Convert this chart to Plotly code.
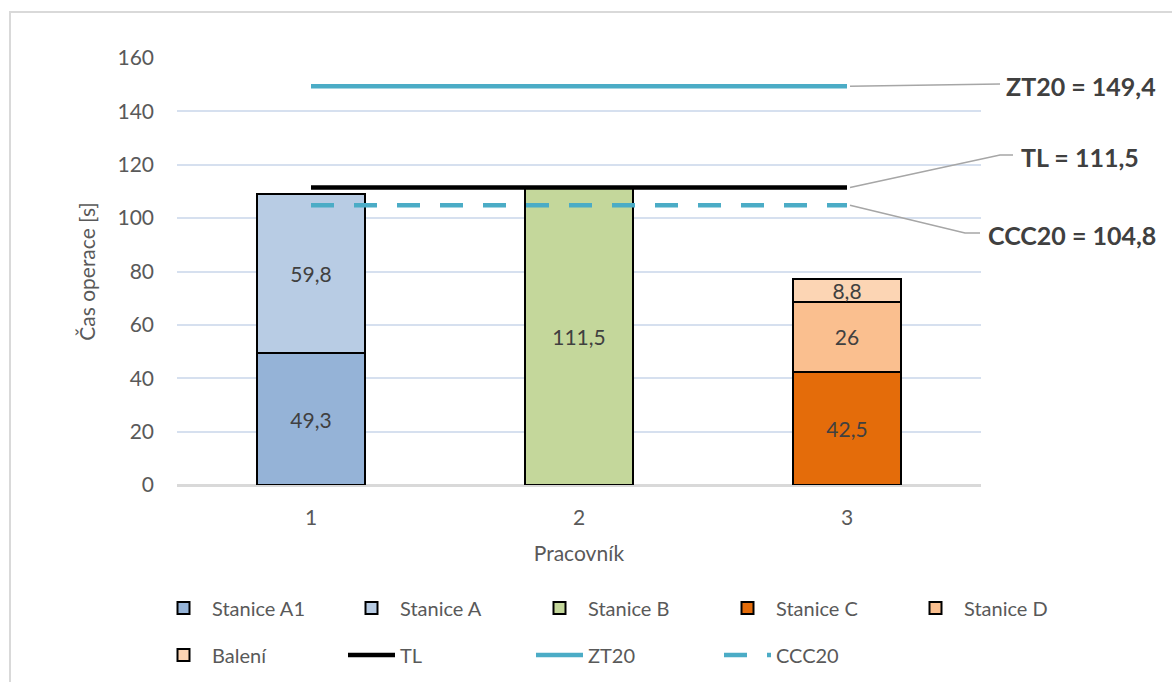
import plotly.graph_objects as go

# Operation times per worker
workers = [1, 2, 3]
stanice_a1 = [49.3, None, None]
stanice_a = [59.8, None, None]
stanice_b = [None, 111.5, None]
stanice_c = [None, None, 42.5]
stanice_d = [None, None, 26]
baleni = [None, None, 8.8]

# Reference levels
tl_value = 111.5
zt20_value = 149.4
ccc20_value = 104.8

W, H = 1172, 682
ML, MR, MT, MB = 177, 191, 58, 197
PW, PH = W - ML - MR, H - MT - MB
Y_MAX = 160
X_MIN, X_MAX = 0.5, 3.5


def px(x):
    return (x - ML) / PW


def py(y):
    return (H - MB - y) / PH


def dx(v):
    return (v - X_MIN) / (X_MAX - X_MIN)


def dy(v):
    return v / Y_MAX


def fmt(vals):
    return [("" if v is None else f"{v:g}".replace(".", ",")) for v in vals]


FONT = "Lato"
TEXT = "#595959"
DARK = "#404040"

fig = go.Figure()

bar_series = [
    ("Stanice A1", stanice_a1, "#95B3D7", "legend"),
    ("Stanice A", stanice_a, "#B8CCE4", "legend"),
    ("Stanice B", stanice_b, "#C4D79B", "legend"),
    ("Stanice C", stanice_c, "#E46C0A", "legend"),
    ("Stanice D", stanice_d, "#FABF8F", "legend"),
    ("Balení", baleni, "#FCD5B4", "legend2"),
]
for name, vals, color, leg in bar_series:
    fig.add_trace(go.Bar(
        name=name, x=workers, y=vals, width=0.4,
        marker=dict(color=color, line=dict(color="black", width=2)),
        text=fmt(vals), textposition="inside", insidetextanchor="middle",
        textangle=0, constraintext="none",
        textfont=dict(family=FONT, size=21, color=DARK),
        legend=leg, hoverinfo="skip",
    ))

line_series = [
    ("TL", tl_value, "black", "solid"),
    ("ZT20", zt20_value, "#4BACC6", "solid"),
    ("CCC20", ccc20_value, "#4BACC6", "23px,20px"),
]
for name, val, color, dash in line_series:
    fig.add_trace(go.Scatter(
        name=name, x=workers, y=[val] * len(workers), mode="lines",
        line=dict(color=color, width=4.5, dash=dash),
        legend="legend2", hoverinfo="skip",
    ))

# Value labels with leader lines
labels = [
    (f"ZT20 = {zt20_value:g}".replace(".", ","), zt20_value, (1004, 86), [(1000, 84)]),
    (f"TL = {tl_value:g}".replace(".", ","), tl_value, (1019, 157), [(1000, 155), (1013, 155)]),
    (f"CCC20 = {ccc20_value:g}".replace(".", ","), ccc20_value, (986, 235), [(965, 233), (980, 233)]),
]
shapes = []
annotations = []
for text, val, (tx, ty), pts in labels:
    x0 = dx(workers[-1]) + 3 / PW
    path = f"M {x0},{dy(val)}"
    for (x, y) in pts:
        path += f" L {px(x)},{py(y)}"
    shapes.append(dict(type="path", xref="paper", yref="paper", path=path,
                       line=dict(color="#A6A6A6", width=1.5)))
    annotations.append(dict(text=f"<b>{text}</b>", xref="paper", yref="paper",
                            x=px(tx), y=py(ty), xanchor="left", yanchor="middle",
                            showarrow=False,
                            font=dict(family=FONT, size=25, color=DARK)))

# Chart frame
shapes.append(dict(type="rect", xref="paper", yref="paper", layer="below",
                   x0=px(10), y0=py(700), x1=px(1190), y1=py(12),
                   line=dict(color="#D9D9D9", width=2), fillcolor="rgba(0,0,0,0)"))

legend_common = dict(
    orientation="h", xanchor="left", yanchor="middle",
    entrywidth=126, entrywidthmode="pixels", itemwidth=47,
    font=dict(family=FONT, size=20, color=TEXT),
    bgcolor="rgba(0,0,0,0)", traceorder="normal",
    itemclick=False, itemdoubleclick=False,
)

fig.update_layout(
    width=W, height=H,
    margin=dict(l=ML, r=MR, t=MT, b=MB, autoexpand=False),
    paper_bgcolor="white", plot_bgcolor="white",
    barmode="stack", showlegend=True,
    font=dict(family=FONT, color=TEXT),
    xaxis=dict(
        range=[X_MIN, X_MAX], tickvals=workers, ticktext=[str(w) for w in workers],
        showgrid=False, zeroline=False, showline=True, linecolor="#D9D9D9", linewidth=1.5,
        ticks="", ticklabelstandoff=13,
        tickfont=dict(family=FONT, size=21, color=TEXT),
        title=dict(text="Pracovník", font=dict(family=FONT, size=21, color=TEXT), standoff=18),
    ),
    yaxis=dict(
        range=[0, Y_MAX], dtick=20, showgrid=True, gridcolor="#D6E0EF", gridwidth=1.5,
        zeroline=True, zerolinecolor="#D9D9D9", zerolinewidth=1.5, showline=False,
        ticks="", ticklabelstandoff=22,
        tickfont=dict(family=FONT, size=21, color=TEXT),
        title=dict(text="Čas operace [s]", font=dict(family=FONT, size=21, color=TEXT), standoff=16),
    ),
    legend=dict(x=px(155), y=py(608), **legend_common),
    legend2=dict(x=px(155), y=py(655), **legend_common),
    shapes=shapes,
    annotations=annotations,
)

fig.write_html("out.html")
